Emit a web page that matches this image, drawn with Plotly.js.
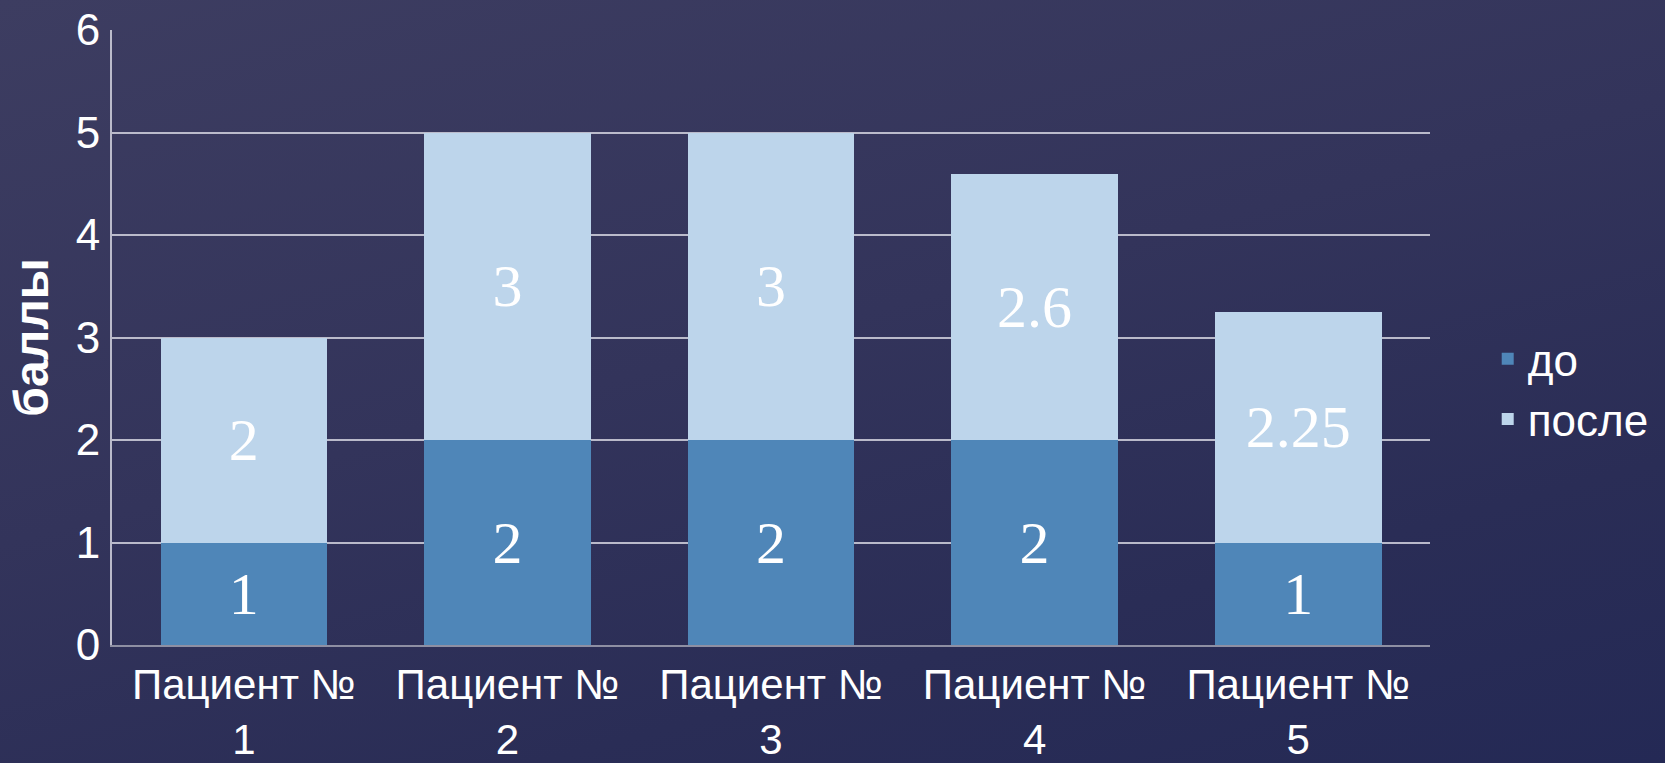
<!DOCTYPE html>
<html>
<head>
<meta charset="utf-8">
<script src="https://cdn.plot.ly/plotly-3.0.1.min.js"></script>
<style>
  html, body { margin: 0; padding: 0; width: 1665px; height: 763px; overflow: hidden;
    background: linear-gradient(165deg, #3d3d61 0%, #33345b 45%, #2a2d56 75%, #242955 100%); }
  #chart { width: 1665px; height: 763px; }
</style>
</head>
<body>
<div id="chart"></div>
<script>
const categories = ['Пациент № 1', 'Пациент № 2', 'Пациент № 3', 'Пациент № 4', 'Пациент № 5'];
const tickLabels = ['Пациент №<br>1', 'Пациент №<br>2', 'Пациент №<br>3', 'Пациент №<br>4', 'Пациент №<br>5'];
const seriesNames = ['до', 'после'];
const beforeValues = [1, 2, 2, 2, 1];
const afterValues = [2, 3, 3, 2.6, 2.25];
const yTicks = [0, 1, 2, 3, 4, 5, 6];
const yTitle = 'баллы';

const labelFont = { family: 'Liberation Serif, Times New Roman, serif', size: 60, color: '#ffffff' };

const traces = [
  {
    type: 'bar', name: seriesNames[0], x: categories, y: beforeValues,
    marker: { color: '#4f86b8', line: { width: 0 } },
    texttemplate: '%{y}', textposition: 'inside', insidetextanchor: 'middle',
    constraintext: 'none', textfont: labelFont, hoverinfo: 'skip'
  },
  {
    type: 'bar', name: seriesNames[1], x: categories, y: afterValues,
    marker: { color: '#bdd5eb', line: { width: 0 } },
    texttemplate: '%{y}', textposition: 'inside', insidetextanchor: 'middle',
    constraintext: 'none', textfont: labelFont, hoverinfo: 'skip'
  }
];

const layout = {
  width: 1665, height: 763,
  paper_bgcolor: 'rgba(0,0,0,0)', plot_bgcolor: 'rgba(0,0,0,0)',
  margin: { l: 112, r: 234, t: 30, b: 118, pad: 0 },
  barmode: 'stack', bargap: 0.368,
  font: { family: 'Liberation Sans, Arial, sans-serif', color: '#ffffff' },
  xaxis: {
    type: 'category', tickvals: categories, ticktext: tickLabels, tickangle: 0,
    tickfont: { family: 'Liberation Sans, Arial, sans-serif', size: 42, color: '#ffffff' },
    showline: true, linecolor: '#8e8fa3', linewidth: 2, showgrid: false, ticks: '',
    ticklabelstandoff: 2,
    automargin: false
  },
  yaxis: {
    range: [0, 6], tickvals: yTicks, ticks: '',
    tickfont: { family: 'Liberation Sans, Arial, sans-serif', size: 44, color: '#ffffff' },
    showgrid: true, gridcolor: 'rgba(210,210,222,0.85)', gridwidth: 2,
    showline: true, linecolor: 'rgba(210,210,222,0.85)', linewidth: 2,
    zeroline: false, ticklabelstandoff: 1,
    title: { text: '<b>' + yTitle + '</b>', font: { family: 'Liberation Sans, Arial, sans-serif', size: 48, color: '#ffffff' }, standoff: 12 },
    automargin: false
  },
  showlegend: true,
  legend: {
    x: 1.043, xanchor: 'left', y: 0.416, yanchor: 'middle',
    font: { family: 'Liberation Sans, Arial, sans-serif', size: 44, color: '#ffffff' },
    bgcolor: 'rgba(0,0,0,0)', borderwidth: 0, itemwidth: 30, tracegroupgap: 0,
    traceorder: 'normal'
  }
};

Plotly.newPlot('chart', traces, layout, { displayModeBar: false, staticPlot: true });
</script>
</body>
</html>
